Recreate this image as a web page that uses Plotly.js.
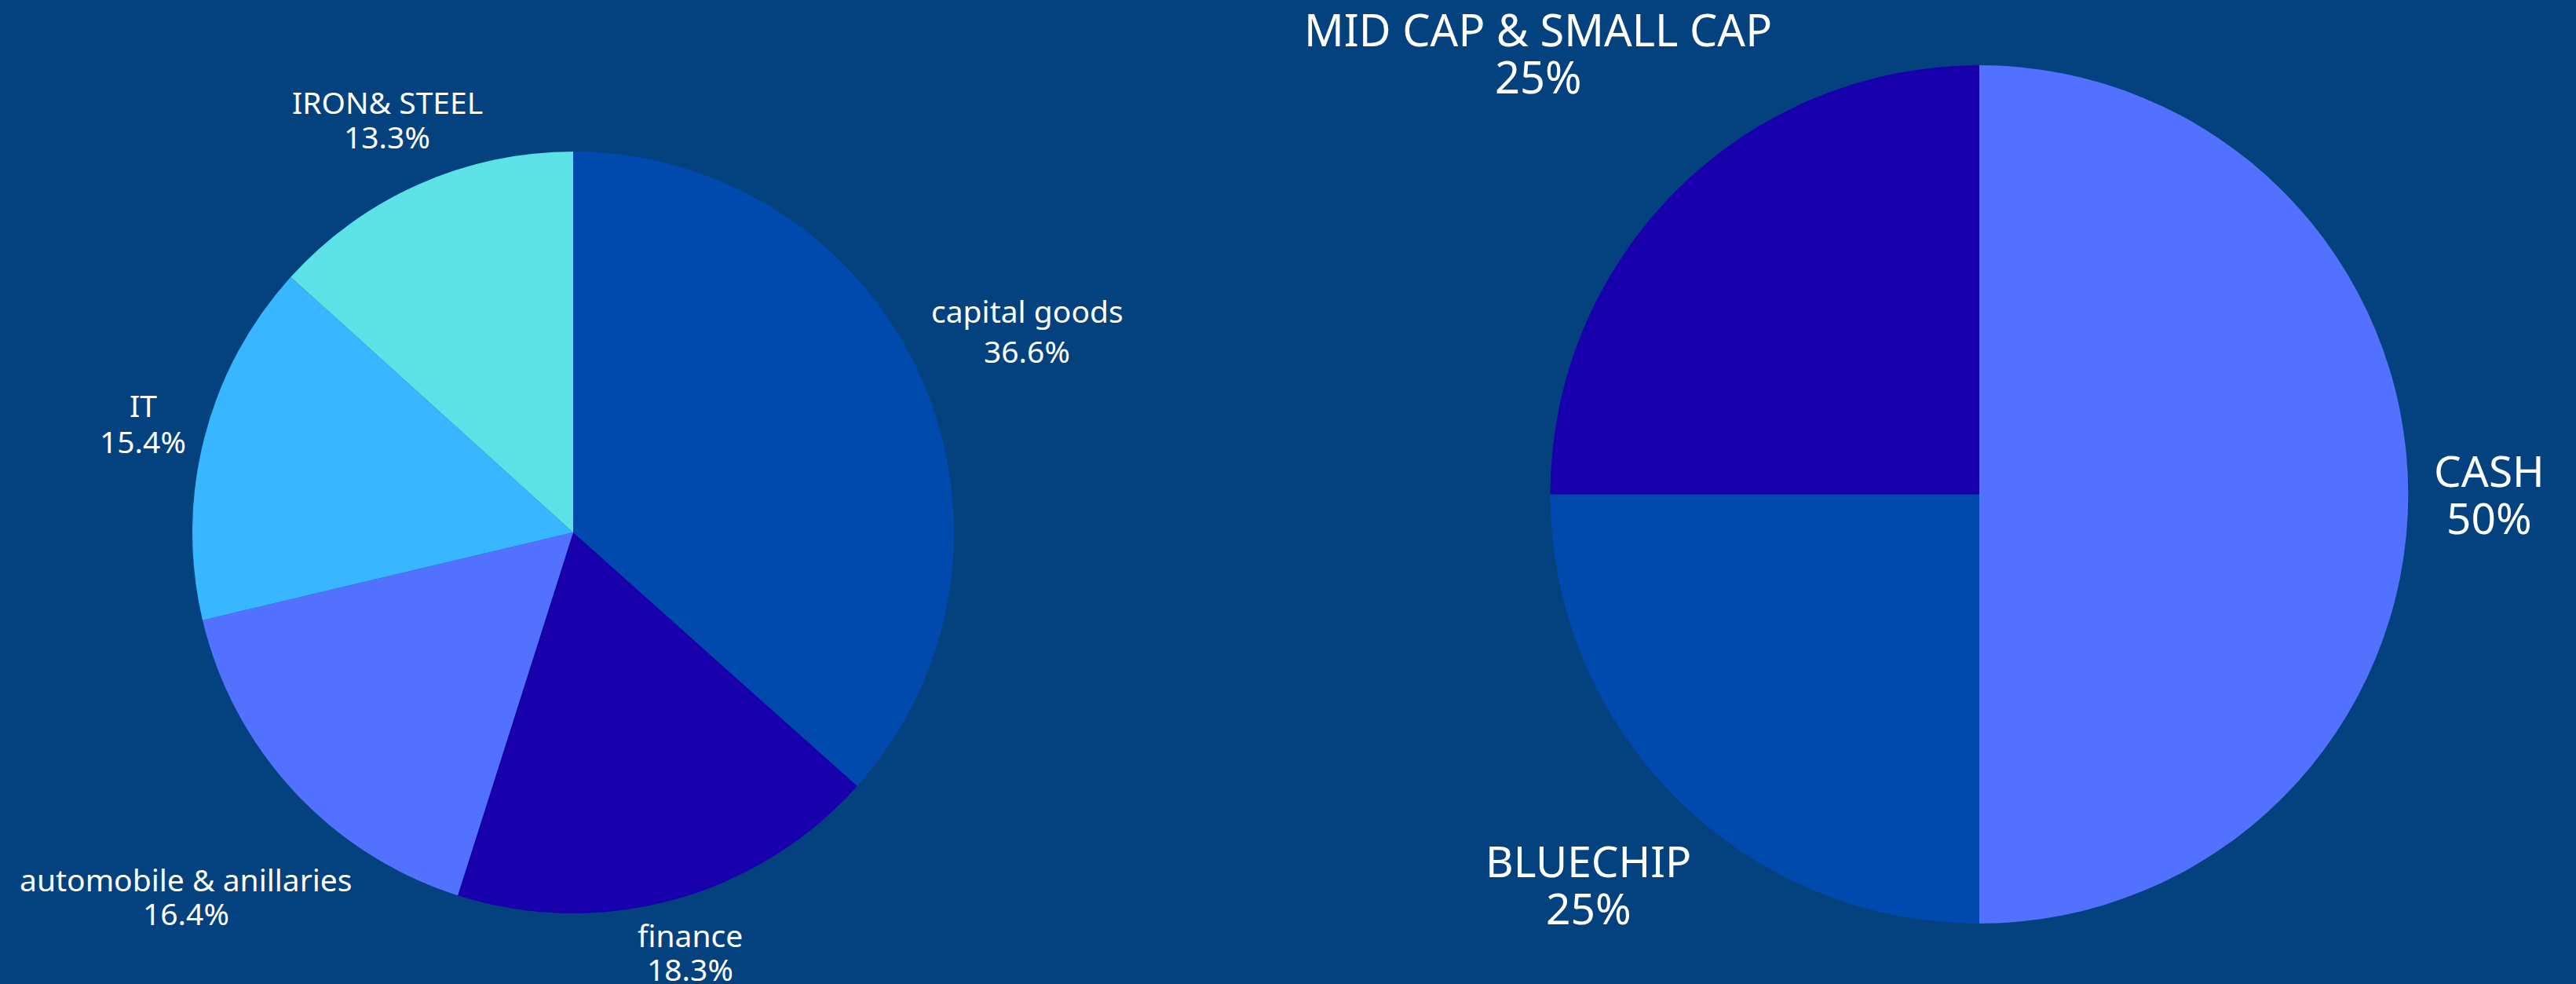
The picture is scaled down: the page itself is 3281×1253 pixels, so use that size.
<!DOCTYPE html>
<html>
<head>
<meta charset="utf-8">
<script src="https://cdn.plot.ly/plotly-3.0.1.min.js"></script>
<style>
  html, body { margin: 0; padding: 0; background: #04427F; }
  #chart { width: 3281px; height: 1253px; }
</style>
</head>
<body>
<div id="chart"></div>
<script>
// ---- data ----
const sectorLabels = ['capital goods', 'finance', 'automobile & anillaries', 'IT', 'IRON& STEEL'];
const sectorValues = [36.6, 18.3, 16.4, 15.4, 13.3];
const allocLabels = ['CASH', 'BLUECHIP', 'MID CAP & SMALL CAP'];
const allocValues = [50, 25, 25];

// ---- styles / positions ----
const W = 3281, H = 1253;
const BG = '#04427F';
const sectorColors = ['#004AAD', '#1800AD', '#5271FF', '#38B6FF', '#5CE1E6'];
const allocColors = ['#5271FF', '#004AAD', '#1800AD'];
// label anchor positions in pixels: [x, y of name line, y of percent line]
const sectorLabelPos = [[1308, 396, 446], [879, 1190, 1233], [237, 1119, 1162], [182, 515, 561], [493, 129, 173]];
const allocLabelPos = [[3170, 598, 658], [2023, 1095, 1155], [1959, 37, 97]];
const FONT = '"Noto Sans", "Open Sans", sans-serif';

function px(x, y) { return { x: x / W, y: 1 - y / H }; }
function dom(cx, cy, r) {
  return { x: [(cx - r) / W, (cx + r) / W], y: [1 - (cy + r) / H, 1 - (cy - r) / H] };
}

const traces = [
  {
    type: 'pie', labels: sectorLabels, values: sectorValues,
    marker: { colors: sectorColors, line: { width: 0 } },
    sort: false, direction: 'clockwise', rotation: 0,
    textinfo: 'none', showlegend: false,
    domain: dom(730, 678, 485)
  },
  {
    type: 'pie', labels: allocLabels, values: allocValues,
    marker: { colors: allocColors, line: { width: 0 } },
    sort: false, direction: 'clockwise', rotation: 0,
    textinfo: 'none', showlegend: false,
    domain: dom(2521, 629.5, 546.5)
  }
];

const annotations = [];
function addLabels(labels, values, pos, size) {
  labels.forEach((lab, i) => {
    const p = pos[i];
    const a = px(p[0], p[1]);
    const b = px(p[0], p[2]);
    annotations.push({ xref: 'paper', yref: 'paper', x: a.x, y: a.y, xanchor: 'center', yanchor: 'middle',
      text: lab, showarrow: false, font: { family: FONT, size: size, color: '#FFFFFF' } });
    annotations.push({ xref: 'paper', yref: 'paper', x: b.x, y: b.y, xanchor: 'center', yanchor: 'middle',
      text: values[i] + '%', showarrow: false, font: { family: FONT, size: size, color: '#FFFFFF' } });
  });
}
addLabels(sectorLabels, sectorValues, sectorLabelPos, 39);
addLabels(allocLabels.slice(0, 2), allocValues.slice(0, 2), allocLabelPos.slice(0, 2), 55);
addLabels(allocLabels.slice(2), allocValues.slice(2), allocLabelPos.slice(2), 56);

const layout = {
  width: W, height: H,
  margin: { l: 0, r: 0, t: 0, b: 0 },
  paper_bgcolor: BG, plot_bgcolor: BG,
  showlegend: false,
  annotations: annotations
};

Plotly.newPlot('chart', traces, layout, { displayModeBar: false, staticPlot: true });
</script>
</body>
</html>
